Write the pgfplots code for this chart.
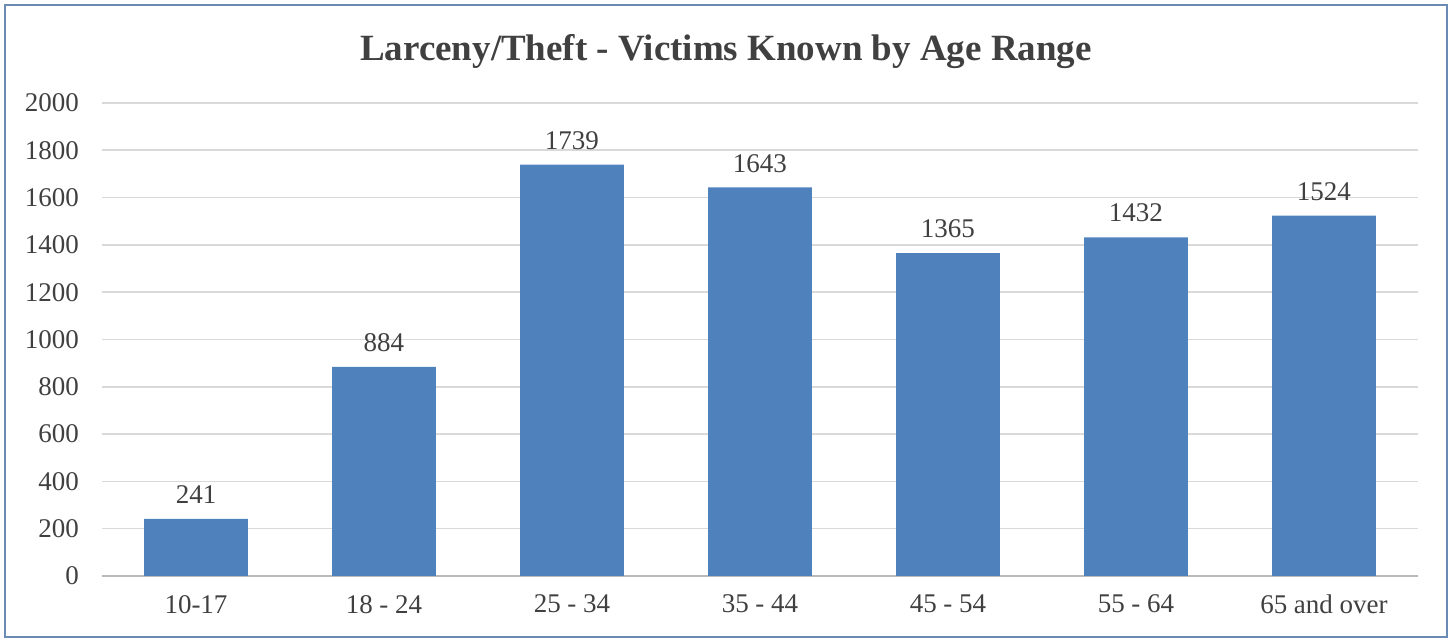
\documentclass[border=0pt]{standalone}
\usepackage{pgfplots}
\pgfplotsset{compat=1.18}
\usepackage{fontspec}
\setmainfont{Liberation Serif}
\definecolor{barblue}{HTML}{4F81BD}
\definecolor{txt}{HTML}{404040}
\definecolor{gridc}{HTML}{D9D9D9}
\definecolor{framec}{HTML}{6A8BB3}
\begin{document}
\begin{tikzpicture}[x=1pt,y=1pt]
\path[use as bounding box] (0,0) rectangle (726,320.5);
\draw[framec, line width=1.2pt] (2.5,2) rectangle (723.5,318);
\node[font=\bfseries\fontsize{18.5}{21}\selectfont, text=txt] at (363,294.5) {Larceny/Theft - Victims Known by Age Range};
\begin{axis}[
  at={(51pt,32.5pt)}, anchor=south west,
  scale only axis, width=658pt, height=236.5pt,
  xmin=-0.5, xmax=6.5, ymin=0, ymax=2000,
  ytick={0,200,...,2000},
  xtick={0,...,6},
  xticklabels={10-17, 18 - 24, 25 - 34, 35 - 44, 45 - 54, 55 - 64, 65 and over},
  ymajorgrids, grid style={gridc, line width=0.8pt},
  axis line style={draw=none},
  major tick length=0pt,
  tick label style={font=\fontsize{13.5}{15}\selectfont, text=txt},
  /pgf/number format/assume math mode=true,
  /pgf/number format/1000 sep={},
  yticklabel style={xshift=-8pt},
  xticklabel style={yshift=-6pt},
  clip=false,
]
\draw[color=gray!55, line width=0.8pt] (axis cs:-0.5,0) -- (axis cs:6.5,0);
\addplot[ybar, bar width=0.553, fill=barblue, draw=none,
  nodes near coords, nodes near coords style={font=\fontsize{13.5}{15}\selectfont, text=txt, yshift=4pt}]
  coordinates {(0,241) (1,884) (2,1739) (3,1643) (4,1365) (5,1432) (6,1524)};
\end{axis}
\end{tikzpicture}
\end{document}
